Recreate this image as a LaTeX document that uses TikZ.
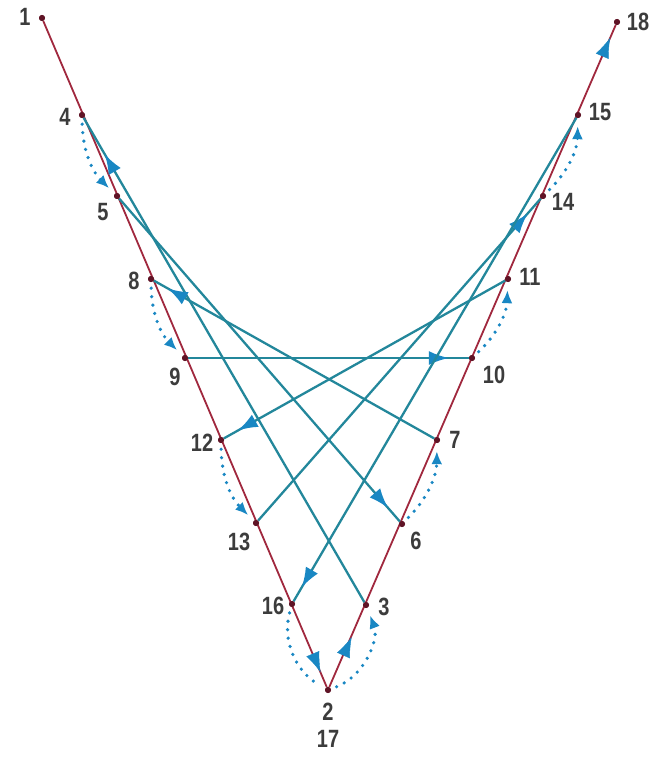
\documentclass[tikz,border=0pt]{standalone}
\usepackage{fontspec}
\setmainfont{Liberation Sans}
\usetikzlibrary{arrows.meta,decorations.markings}
\definecolor{vred}{RGB}{160,40,62}
\definecolor{teal1}{RGB}{35,135,155}
\definecolor{ablue}{RGB}{25,135,195}
\definecolor{dotc}{RGB}{95,20,38}
\definecolor{lbl}{RGB}{60,60,60}
\begin{document}
\begin{tikzpicture}[x=1pt,y=-1pt,
  pt/.style={circle,fill=dotc,inner sep=0pt,minimum size=6pt},
  lab/.style={text=lbl,font=\bfseries\fontsize{25}{25}\selectfont,inner sep=0pt,xscale=0.8},
  redl/.style={draw=vred,line width=1.8pt},
  tl/.style={draw=teal1,line width=2.3pt},
  arrowat/.style={postaction={decorate},decoration={markings,mark=at position #1 with {\arrow{Latex[length=20pt,width=14pt,color=ablue]}}}},
  dotl/.style={draw=ablue,line width=3.6pt,dash pattern=on 0pt off 8.5pt,line cap=round,shorten >=8pt,shorten <=6pt,-{Latex[length=13pt,width=11pt,color=ablue]}},
  dotn/.style={draw=ablue,line width=3.6pt,dash pattern=on 0pt off 8.5pt,line cap=round,shorten >=6pt,shorten <=6pt}
]
\useasboundingbox (0,0) rectangle (665,759);
% points
\node[pt] (p1) at (42,18) {};
\node[pt] (p4) at (82,115) {};
\node[pt] (p5) at (117,196) {};
\node[pt] (p8) at (151,279) {};
\node[pt] (p9) at (185,358) {};
\node[pt] (p12) at (221,440) {};
\node[pt] (p13) at (256,523) {};
\node[pt] (p16) at (292,604) {};
\node[pt] (p2) at (328,690) {};
\node[pt] (p3) at (366,605) {};
\node[pt] (p6) at (402,524) {};
\node[pt] (p7) at (437,440) {};
\node[pt] (p10) at (472,358) {};
\node[pt] (p11) at (508,279) {};
\node[pt] (p14) at (543,196) {};
\node[pt] (p15) at (578,115) {};
\node[pt] (p18) at (617,22) {};
% red lines
\draw[redl] (p1) -- (p2);
\draw[redl] (p2) -- (p18);
% teal threads
\draw[tl,arrowat=-42pt] (p3) -- (p4);
\draw[tl,arrowat=-18pt] (p5) -- (p6);
\draw[tl,arrowat=-16pt] (p7) -- (p8);
\draw[tl,arrowat=-20pt] (p9) -- (p10);
\draw[tl,arrowat=-16pt] (p11) -- (p12);
\draw[tl,arrowat=-20pt] (p13) -- (p14);
\draw[tl,arrowat=-16pt] (p15) -- (p16);
% arrows on red lines
\path[arrowat=-16pt] (p16) -- (p2);
\path[arrowat=-32pt] (p2) -- (p3);
\path[arrowat=-14pt] (p2) -- (p18);
% dotted moves
\draw[dotl] (p4) to[bend right=22] (p5);
\draw[dotl] (p8) to[bend right=22] (p9);
\draw[dotl] (p12) to[bend right=22] (p13);
\draw[dotn] (p16) to[bend right=38] (p2);
\draw[dotl] (p2) to[bend right=45] (p3);
\draw[dotl] (p6) to[bend right=22] (p7);
\draw[dotl] (p10) to[bend right=22] (p11);
\draw[dotl] (p14) to[bend right=22] (p15);
% redraw points on top
\foreach \p in {p1,p4,p5,p8,p9,p12,p13,p16,p2,p3,p6,p7,p10,p11,p14,p15,p18}
  \fill[dotc] (\p) circle (3pt);
% labels
\node[lab] (l1) at (25,17) {1};
\node[lab] (l4) at (65,117) {4};
\node[lab] (l5) at (103,212) {5};
\node[lab] (l8) at (134,281) {8};
\node[lab] (l9) at (175,377) {9};
\node[lab] (l12) at (202,443) {12};
\node[lab] (l13) at (239,542) {13};
\node[lab] (l16) at (273,606) {16};
\node[lab] (l2) at (328,712) {2};
\node[lab] (l17) at (328,739) {17};
\node[lab] (l3) at (384,607) {3};
\node[lab] (l6) at (416,541) {6};
\node[lab] (l7) at (455,440) {7};
\node[lab] (l10) at (494,375) {10};
\node[lab] (l11) at (530,277) {11};
\node[lab] (l14) at (563,202) {14};
\node[lab] (l15) at (600,112) {15};
\node[lab] (l18) at (638,22) {18};
\end{tikzpicture}
\end{document}
